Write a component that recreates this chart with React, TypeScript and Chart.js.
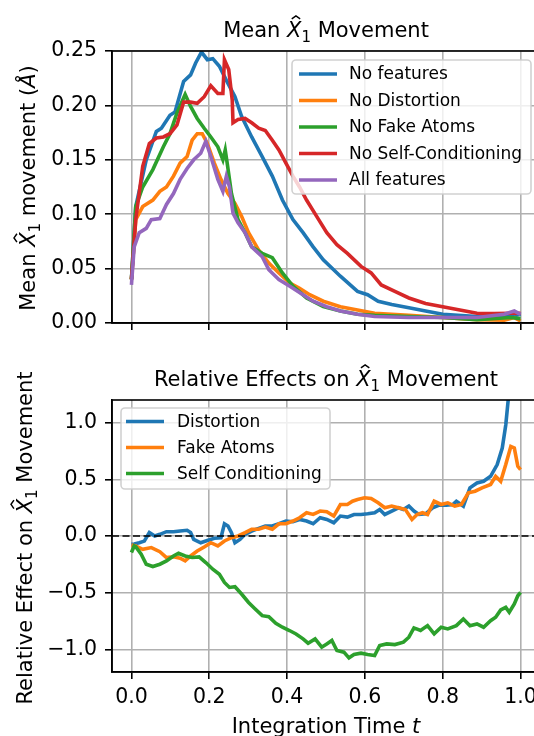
import React, { useEffect, useRef } from 'react';
import { Chart, registerables } from 'chart.js';
Chart.register(...registerables);

const FONT = 'DejaVu Sans';
const BLUE = '#1f77b4', ORANGE = '#ff7f0e', GREEN = '#2ca02c', RED = '#d62728', PURPLE = '#9467bd';

// ---------- top panel: mean X1 movement ----------
const noFeaturesT = [0,0.011,0.038,0.064,0.077,0.099,0.112,0.134,0.152,0.165,0.18,0.195,0.209,0.226,0.244,0.266,0.283,0.309,0.336,0.362,0.388,0.415,0.441,0.467,0.493,0.537,0.581,0.607,0.634,0.669,0.713,0.756,0.8,0.888,0.975,1.0];
const noFeaturesV = [0.04,0.107,0.15,0.176,0.179,0.191,0.194,0.222,0.228,0.239,0.249,0.242,0.243,0.236,0.223,0.208,0.19,0.171,0.153,0.135,0.113,0.095,0.083,0.07,0.058,0.043,0.029,0.026,0.02,0.017,0.014,0.011,0.008,0.006,0.006,0.008];

const noDistortionT = [0,0.011,0.029,0.055,0.073,0.09,0.108,0.125,0.143,0.156,0.169,0.182,0.195,0.213,0.23,0.248,0.266,0.283,0.301,0.327,0.353,0.379,0.406,0.432,0.458,0.493,0.537,0.581,0.625,0.713,0.8,0.888,0.958,0.984,1.0];
const noDistortionV = [0.04,0.095,0.107,0.113,0.121,0.125,0.135,0.147,0.153,0.168,0.174,0.174,0.165,0.147,0.132,0.119,0.11,0.098,0.083,0.067,0.055,0.046,0.037,0.032,0.026,0.02,0.015,0.012,0.009,0.007,0.005,0.003,0.0025,0.005,0.002];

const noFakeAtomsT = [0,0.011,0.029,0.055,0.082,0.099,0.117,0.138,0.152,0.169,0.187,0.204,0.222,0.235,0.241,0.246,0.257,0.274,0.292,0.309,0.336,0.362,0.388,0.415,0.45,0.493,0.537,0.581,0.625,0.713,0.8,0.888,0.975,1.0];
const noFakeAtomsV = [0.04,0.107,0.125,0.141,0.162,0.174,0.193,0.21,0.199,0.188,0.179,0.171,0.162,0.15,0.159,0.147,0.119,0.095,0.083,0.07,0.064,0.06,0.046,0.034,0.023,0.015,0.011,0.008,0.007,0.006,0.005,0.003,0.005,0.004];

const noSelfCondT = [0,0.011,0.029,0.046,0.064,0.082,0.099,0.117,0.134,0.152,0.169,0.187,0.204,0.222,0.235,0.239,0.25,0.259,0.261,0.274,0.292,0.309,0.327,0.344,0.362,0.379,0.397,0.415,0.432,0.45,0.476,0.502,0.528,0.555,0.59,0.616,0.642,0.677,0.713,0.756,0.8,0.844,0.888,0.932,0.975,1.0];
const noSelfCondV = [0.04,0.095,0.144,0.165,0.17,0.171,0.174,0.182,0.203,0.203,0.202,0.208,0.218,0.211,0.211,0.242,0.233,0.205,0.184,0.187,0.188,0.184,0.179,0.177,0.168,0.159,0.147,0.135,0.125,0.113,0.098,0.083,0.072,0.064,0.052,0.046,0.035,0.029,0.023,0.018,0.015,0.012,0.009,0.0086,0.009,0.009];

const allFeaturesT = [0,0.007,0.02,0.038,0.051,0.073,0.09,0.108,0.125,0.143,0.16,0.178,0.191,0.204,0.222,0.235,0.244,0.252,0.261,0.274,0.292,0.309,0.336,0.353,0.379,0.406,0.432,0.467,0.502,0.537,0.581,0.625,0.713,0.8,0.888,0.958,0.984,1.0];
const allFeaturesV = [0.035,0.07,0.083,0.087,0.095,0.096,0.109,0.119,0.132,0.142,0.15,0.156,0.167,0.153,0.132,0.121,0.135,0.125,0.101,0.092,0.083,0.07,0.061,0.049,0.04,0.034,0.028,0.02,0.015,0.011,0.008,0.006,0.005,0.005,0.005,0.008,0.011,0.008];

// ---------- bottom panel: relative effects ----------
const distortionT = [0,0.007,0.02,0.033,0.046,0.06,0.073,0.09,0.108,0.125,0.143,0.152,0.16,0.178,0.195,0.213,0.23,0.239,0.248,0.257,0.266,0.279,0.292,0.309,0.327,0.344,0.362,0.379,0.397,0.415,0.432,0.45,0.467,0.485,0.502,0.52,0.537,0.555,0.572,0.59,0.607,0.625,0.638,0.651,0.669,0.686,0.699,0.713,0.726,0.739,0.756,0.774,0.791,0.809,0.826,0.835,0.853,0.87,0.888,0.905,0.923,0.94,0.953,0.962,0.968,0.98,1.0];
const distortionV = [-0.073,-0.07,-0.06,-0.045,0.03,0.0,0.015,0.038,0.038,0.044,0.05,0.03,-0.03,-0.06,-0.04,-0.02,-0.015,0.108,0.088,0.03,-0.06,-0.03,0.015,0.044,0.067,0.088,0.088,0.108,0.132,0.126,0.146,0.132,0.108,0.161,0.146,0.117,0.176,0.167,0.19,0.19,0.196,0.205,0.234,0.19,0.22,0.249,0.234,0.264,0.22,0.19,0.196,0.249,0.272,0.272,0.278,0.307,0.264,0.425,0.468,0.483,0.527,0.63,0.776,0.98,1.19,1.6,2.4];

const fakeAtomsT = [0,0.011,0.029,0.051,0.073,0.09,0.108,0.125,0.138,0.152,0.169,0.187,0.204,0.222,0.239,0.257,0.274,0.292,0.309,0.327,0.344,0.362,0.379,0.397,0.415,0.432,0.45,0.467,0.485,0.502,0.52,0.537,0.555,0.568,0.581,0.599,0.616,0.634,0.651,0.669,0.686,0.704,0.721,0.734,0.748,0.761,0.778,0.796,0.813,0.831,0.848,0.866,0.883,0.901,0.923,0.936,0.949,0.962,0.975,0.984,0.993,1.0];
const fakeAtomsV = [-0.079,-0.088,-0.117,-0.102,-0.138,-0.19,-0.184,-0.196,-0.22,-0.176,-0.132,-0.097,-0.059,-0.088,-0.044,-0.015,0.0,0.029,0.059,0.059,0.079,0.059,0.108,0.108,0.132,0.161,0.205,0.19,0.22,0.214,0.176,0.278,0.278,0.307,0.322,0.337,0.331,0.293,0.249,0.264,0.249,0.234,0.146,0.19,0.205,0.19,0.307,0.278,0.293,0.264,0.278,0.381,0.395,0.425,0.454,0.527,0.483,0.63,0.79,0.776,0.615,0.586];

const selfCondT = [0,0.007,0.011,0.025,0.038,0.055,0.073,0.09,0.108,0.121,0.138,0.156,0.174,0.191,0.209,0.226,0.239,0.252,0.266,0.283,0.301,0.318,0.336,0.353,0.371,0.388,0.406,0.423,0.441,0.454,0.472,0.489,0.502,0.515,0.528,0.546,0.559,0.572,0.59,0.607,0.625,0.638,0.656,0.677,0.699,0.713,0.726,0.743,0.761,0.778,0.796,0.813,0.835,0.853,0.87,0.888,0.905,0.923,0.936,0.949,0.962,0.971,0.984,0.993,1.0];
const selfCondV = [-0.146,-0.088,-0.094,-0.161,-0.249,-0.269,-0.249,-0.22,-0.176,-0.152,-0.176,-0.19,-0.184,-0.234,-0.293,-0.337,-0.41,-0.454,-0.448,-0.512,-0.586,-0.644,-0.703,-0.712,-0.77,-0.805,-0.834,-0.864,-0.908,-0.946,-0.908,-0.981,-0.952,-0.922,-1.01,-1.025,-1.075,-1.045,-1.034,-1.045,-1.054,-0.966,-0.952,-0.958,-0.937,-0.893,-0.811,-0.834,-0.791,-0.864,-0.805,-0.82,-0.791,-0.732,-0.791,-0.776,-0.805,-0.747,-0.717,-0.653,-0.63,-0.673,-0.6,-0.527,-0.498];

const zeroLineT = [-0.05, 1.05];
const zeroLineV = [0, 0];

// ---------- ticks & labels ----------
const xTicks = [0, 0.2, 0.4, 0.6, 0.8, 1.0];
const topYTicks = [0, 0.05, 0.1, 0.15, 0.2, 0.25];
const botYTicks = [-1.0, -0.5, 0.0, 0.5, 1.0];
const topLegendLabels = ['No features', 'No Distortion', 'No Fake Atoms', 'No Self-Conditioning', 'All features'];
const topLegendColors = [BLUE, ORANGE, GREEN, RED, PURPLE];
const botLegendLabels = ['Distortion', 'Fake Atoms', 'Self Conditioning'];
const botLegendColors = [BLUE, ORANGE, GREEN];

const LW = 3.6;
const TICK_SIZE = 20.5;

type Seg = { text: string; italic?: boolean; sub?: boolean; hat?: boolean };

const pts = (t: number[], v: number[]) => t.map((x, i) => ({ x, y: v[i] }));

function drawRich(ctx: CanvasRenderingContext2D, segs: Seg[], size: number, px: number, py: number, rotated: boolean) {
  ctx.save();
  ctx.translate(px, py);
  if (rotated) ctx.rotate(-Math.PI / 2);
  const fontFor = (s: Seg) => `${s.italic ? 'italic ' : ''}${s.sub ? Math.round(size * 0.7) : size}px "${FONT}"`;
  const widths = segs.map((s) => { ctx.font = fontFor(s); return ctx.measureText(s.text).width; });
  const total = widths.reduce((a, b) => a + b, 0);
  let x = -total / 2;
  ctx.fillStyle = '#000';
  ctx.strokeStyle = '#000';
  ctx.textAlign = 'left';
  ctx.textBaseline = 'alphabetic';
  segs.forEach((s, i) => {
    ctx.font = fontFor(s);
    const dy = s.sub ? size * 0.22 : 0;
    ctx.fillText(s.text, x, dy);
    if (s.hat) {
      const cx = x + widths[i] * 0.62;
      const hw = size * 0.2;
      ctx.beginPath();
      ctx.lineWidth = size * 0.07;
      ctx.moveTo(cx - hw, -size * 0.86);
      ctx.lineTo(cx, -size * 1.0);
      ctx.lineTo(cx + hw, -size * 0.86);
      ctx.stroke();
    }
    x += widths[i];
  });
  ctx.restore();
}

type Label = { segs: Seg[]; size: number; x: number; y: number; rotated: boolean };
type LegendCfg = { x: number; y: number; w: number; h: number; rowY: number[]; hx1: number; hx2: number; tx: number; labels: string[]; colors: string[]; size: number };

function makePlugins(labels: Label[], legend: LegendCfg) {
  return [
    {
      id: 'frame',
      afterDatasetsDraw(chart: any) {
        const { ctx, chartArea: a } = chart;
        ctx.save();
        ctx.strokeStyle = '#000';
        ctx.lineWidth = 1.6;
        ctx.strokeRect(a.left, a.top, a.right - a.left, a.bottom - a.top);
        ctx.restore();
      },
    },
    {
      id: 'decor',
      afterDraw(chart: any) {
        const ctx = chart.ctx as CanvasRenderingContext2D;
        ctx.save();
        ctx.beginPath();
        (ctx as any).roundRect(legend.x, legend.y, legend.w, legend.h, 4);
        ctx.fillStyle = 'rgba(255,255,255,0.8)';
        ctx.fill();
        ctx.strokeStyle = 'rgba(204,204,204,0.9)';
        ctx.lineWidth = 1.6;
        ctx.stroke();
        legend.labels.forEach((lab, i) => {
          const y = legend.rowY[i];
          ctx.beginPath();
          ctx.strokeStyle = legend.colors[i];
          ctx.lineWidth = LW;
          ctx.moveTo(legend.hx1, y);
          ctx.lineTo(legend.hx2, y);
          ctx.stroke();
          ctx.fillStyle = '#000';
          ctx.font = `${legend.size}px "${FONT}"`;
          ctx.textAlign = 'left';
          ctx.textBaseline = 'middle';
          ctx.fillText(lab, legend.tx, y + 1);
        });
        ctx.restore();
        labels.forEach((l) => drawRich(ctx, l.segs, l.size, l.x, l.y, l.rotated));
      },
    },
  ];
}

function baseScales(yMin: number, yMax: number, yTicks: number[], yFmt: (v: number) => string, showX: boolean, xHeight: number) {
  const grid = { color: '#b0b0b0', lineWidth: 1.6, tickColor: '#000', tickLength: 7, tickWidth: 1.6, drawTicks: true };
  return {
    x: {
      type: 'linear',
      min: -0.05,
      max: 1.05,
      afterBuildTicks: (s: any) => { s.ticks = xTicks.map((v) => ({ value: v })); },
      afterFit: (s: any) => { s.height = xHeight; },
      grid,
      border: { display: true, color: '#000', width: 1.6 },
      ticks: {
        display: showX,
        color: '#000',
        padding: 6,
        maxRotation: 0,
        font: { family: FONT, size: TICK_SIZE },
        callback: (v: any) => Number(v).toFixed(1),
      },
    },
    y: {
      type: 'linear',
      min: yMin,
      max: yMax,
      afterBuildTicks: (s: any) => { s.ticks = yTicks.map((v) => ({ value: v })); },
      afterFit: (s: any) => { s.width = 112; },
      grid,
      border: { display: true, color: '#000', width: 1.6 },
      ticks: {
        color: '#000',
        padding: 8,
        font: { family: FONT, size: TICK_SIZE },
        callback: (v: any) => yFmt(Number(v)),
      },
    },
  };
}

const line = (label: string, t: number[], v: number[], color: string, order: number, extra: any = {}) => ({
  label,
  data: pts(t, v),
  borderColor: color,
  backgroundColor: color,
  borderWidth: LW,
  pointRadius: 0,
  tension: 0,
  fill: false,
  order,
  ...extra,
});

function TopChart() {
  const ref = useRef<HTMLCanvasElement>(null);
  useEffect(() => {
    const chart = new Chart(ref.current!, {
      type: 'line',
      data: {
        datasets: [
          line('No features', noFeaturesT, noFeaturesV, BLUE, 5),
          line('No Distortion', noDistortionT, noDistortionV, ORANGE, 4),
          line('No Fake Atoms', noFakeAtomsT, noFakeAtomsV, GREEN, 3),
          line('No Self-Conditioning', noSelfCondT, noSelfCondV, RED, 2),
          line('All features', allFeaturesT, allFeaturesV, PURPLE, 1),
        ],
      },
      options: {
        responsive: false,
        animation: false,
        devicePixelRatio: 1,
        layout: { padding: { left: 0, top: 51, right: 20, bottom: 0 } },
        plugins: { legend: { display: false }, tooltip: { enabled: false }, title: { display: false } },
        scales: baseScales(0, 0.25, topYTicks, (v) => v.toFixed(2), false, 23) as any,
      },
      plugins: makePlugins(
        [
          { segs: [{ text: 'Mean ' }, { text: 'X', italic: true, hat: true }, { text: '1', sub: true }, { text: ' Movement' }], size: 21, x: 326, y: 37, rotated: false },
          { segs: [{ text: 'Mean ' }, { text: 'X', italic: true, hat: true }, { text: '1', sub: true }, { text: ' movement (' }, { text: 'Å', italic: true }, { text: ')' }], size: 21, x: 35, y: 188, rotated: true },
        ],
        { x: 292, y: 60, w: 239, h: 134, rowY: [74, 100.5, 127, 153.5, 180], hx1: 299, hx2: 337, tx: 349, labels: topLegendLabels, colors: topLegendColors, size: 17 },
      ) as any,
    });
    return () => chart.destroy();
  }, []);
  return <canvas ref={ref} width={560} height={346} style={{ width: 560, height: 346, display: 'block' }} />;
}

function BottomChart() {
  const ref = useRef<HTMLCanvasElement>(null);
  useEffect(() => {
    const chart = new Chart(ref.current!, {
      type: 'line',
      data: {
        datasets: [
          line('Distortion', distortionT, distortionV, BLUE, 4),
          line('Fake Atoms', fakeAtomsT, fakeAtomsV, ORANGE, 3),
          line('Self Conditioning', selfCondT, selfCondV, GREEN, 2),
          line('zero', zeroLineT, zeroLineV, '#000', 1, { borderWidth: 1.6, borderDash: [7, 3.5] }),
        ],
      },
      options: {
        responsive: false,
        animation: false,
        devicePixelRatio: 1,
        layout: { padding: { left: 0, top: 60, right: 20, bottom: 0 } },
        plugins: { legend: { display: false }, tooltip: { enabled: false }, title: { display: false } },
        scales: baseScales(-1.2, 1.2, botYTicks, (v) => v.toFixed(1).replace('-', '\u2212'), true, 78) as any,
      },
      plugins: makePlugins(
        [
          { segs: [{ text: 'Relative Effects on ' }, { text: 'X', italic: true, hat: true }, { text: '1', sub: true }, { text: ' Movement' }], size: 21, x: 326, y: 46, rotated: false },
          { segs: [{ text: 'Relative Effect on ' }, { text: 'X', italic: true, hat: true }, { text: '1', sub: true }, { text: ' Movement' }], size: 21, x: 32, y: 198, rotated: true },
          { segs: [{ text: 'Integration Time ' }, { text: 't', italic: true }], size: 21, x: 326, y: 393, rotated: false },
        ],
        { x: 121, y: 68, w: 209, h: 81, rowY: [81.5, 107.5, 133.5], hx1: 126, hx2: 164, tx: 177, labels: botLegendLabels, colors: botLegendColors, size: 17 },
      ) as any,
    });
    return () => chart.destroy();
  }, []);
  return <canvas ref={ref} width={560} height={410} style={{ width: 560, height: 410, display: 'block' }} />;
}

export default function App() {
  return (
    <div style={{ position: 'fixed', left: 0, top: 0, width: 534, height: 736, overflow: 'hidden', background: '#fff' }}>
      <div style={{ position: 'absolute', left: 0, top: 0 }}>
        <TopChart />
      </div>
      <div style={{ position: 'absolute', left: 0, top: 340 }}>
        <BottomChart />
      </div>
    </div>
  );
}
